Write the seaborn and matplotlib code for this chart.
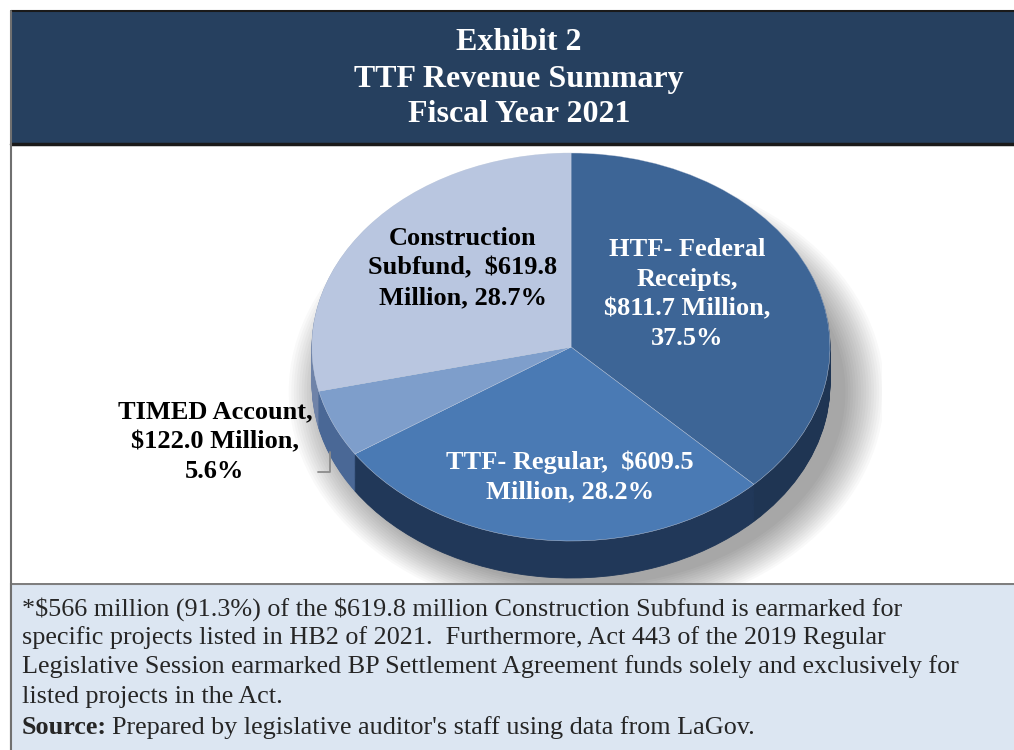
import numpy as np
import matplotlib
matplotlib.use('Agg')
import matplotlib.pyplot as plt
from matplotlib.patches import Rectangle, Ellipse
import seaborn as sns

# ------------------------------------------------------------------
# Datos
# ------------------------------------------------------------------
fuentes = ["HTF- Federal Receipts", "TTF- Regular", "TIMED Account", "Construction Subfund"]
millones = [811.7, 609.5, 122.0, 619.8]
porcentajes = [37.5, 28.2, 5.6, 28.7]

etiquetas = [
    "HTF- Federal\nReceipts,\n$811.7 Million,\n37.5%",
    "TTF- Regular,  $609.5\nMillion, 28.2%",
    "TIMED Account,\n$122.0 Million,\n5.6%",
    "Construction\nSubfund,  $619.8\nMillion, 28.7%",
]
titulo = ["Exhibit 2", "TTF Revenue Summary", "Fiscal Year 2021"]
nota = [
    "*$566 million (91.3%) of the $619.8 million Construction Subfund is earmarked for",
    "specific projects listed in HB2 of 2021.  Furthermore, Act 443 of the 2019 Regular",
    "Legislative Session earmarked BP Settlement Agreement funds solely and exclusively for",
    "listed projects in the Act.",
]
fuente = "Prepared by legislative auditor's staff using data from LaGov."

sns.set_theme(style="white")
plt.rcParams['font.family'] = ['Liberation Serif', 'DejaVu Serif']
plt.rcParams['text.parse_math'] = False

colores_top = sns.color_palette(["#3D6596", "#4A7AB4", "#7E9ECB", "#B9C6E0"])
colores_lado = sns.color_palette(["#1F3553", "#213859", "#4A6896", "#6F83A8"])

W, H = 1014, 750
fig = plt.figure(figsize=(W / 100, H / 100), dpi=100)


def px_axes(x0, y0, x1, y1, zorder):
    # ejes posicionados en pixeles (origen arriba a la izquierda)
    a = fig.add_axes([x0 / W, 1 - y1 / H, (x1 - x0) / W, (y1 - y0) / H])
    a.set_zorder(zorder)
    a.patch.set_alpha(0)
    a.axis('off')
    return a


# Fondo: marco, caja de titulo
bg = px_axes(0, 0, W, H, 0)
bg.set_xlim(0, W)
bg.set_ylim(H, 0)
bg.add_patch(Rectangle((11, 11), W - 11, 133, facecolor="#26405F", edgecolor="none"))
bg.plot([11, W], [11, 11], color="#1A1A1A", lw=1.5)
bg.plot([11, W], [144, 144], color="#1A1A1A", lw=2.5)
bg.plot([11, 11], [11, H], color="#707070", lw=1.5)

# ------------------------------------------------------------------
# Pastel "3D"
# ------------------------------------------------------------------
cx, cy, rx, ry = 571, 347, 259, 194
prof = 37 / ry
xlo, xhi, ylo, yhi = -1.2, 1.2, -1.25, 1.0
ax = px_axes(cx + xlo * rx, cy - yhi * ry, cx + xhi * rx, cy - ylo * ry, 1)

# sombra difusa
for k in range(16):
    ax.add_patch(Ellipse((0.06, -prof - 0.04), 2.0 + k * 0.02, 2.0 + k * 0.022,
                         facecolor="#000000", alpha=0.025, edgecolor="none", zorder=0.5))

for d in np.linspace(prof, 0.004, 40):
    ax.pie(millones, colors=colores_lado, startangle=90, counterclock=False,
           center=(0, -d), radius=1, wedgeprops=dict(linewidth=0.6))
    for w, c in zip(ax.patches[-4:], colores_lado):
        w.set_edgecolor(c)

ax.pie(millones, colors=colores_top, startangle=90, counterclock=False,
       center=(0, 0), radius=1, wedgeprops=dict(linewidth=0.3, edgecolor="#C9D3E4"))
ax.set_xlim(xlo, xhi)
ax.set_ylim(ylo, yhi)
ax.set_aspect('auto')
ax.axis('off')

# ------------------------------------------------------------------
# Caja de nota
# ------------------------------------------------------------------
nb = px_axes(0, 583, W, H, 2)
nb.set_xlim(0, W)
nb.set_ylim(H, 583)
nb.add_patch(Rectangle((11, 583), W - 11, H - 583, facecolor="#DCE6F2", edgecolor="none"))
nb.plot([11, W], [583.5, 583.5], color="#7F7F7F", lw=1.5)
nb.plot([11, 11], [583, H], color="#707070", lw=1.5)

# ------------------------------------------------------------------
# Textos
# ------------------------------------------------------------------
tx = px_axes(0, 0, W, H, 5)
tx.set_xlim(0, W)
tx.set_ylim(H, 0)

for linea, y in zip(titulo, [43, 79, 114]):
    tx.text(519, y, linea, color="white", fontsize=23, fontweight="bold",
            ha="center", va="center")

pos = [(687, 294, "white"), (570, 477, "white"), (215, 442, "black"), (463, 268, "black")]
for txt, (x, y, c) in zip(etiquetas, pos):
    tx.text(x, y, txt, color=c, fontsize=19, fontweight="bold",
            ha="center", va="center", linespacing=1.38)

# linea guia del TIMED
tx.plot([318, 330, 330], [472, 472, 452], color="#8C8C8C", lw=1.3)

for linea, y in zip(nota, [609, 638, 667, 697]):
    tx.text(22, y, linea, fontsize=18.8, ha="left", va="center")

s = tx.text(22, 728, "Source:", fontsize=18.8, fontweight="bold", ha="left", va="center")
fig.canvas.draw()
bb = s.get_window_extent().transformed(tx.transData.inverted())
tx.text(bb.x1 + 5, 728, fuente, fontsize=18.8, ha="left", va="center")

fig.savefig("out.png", dpi=100)
